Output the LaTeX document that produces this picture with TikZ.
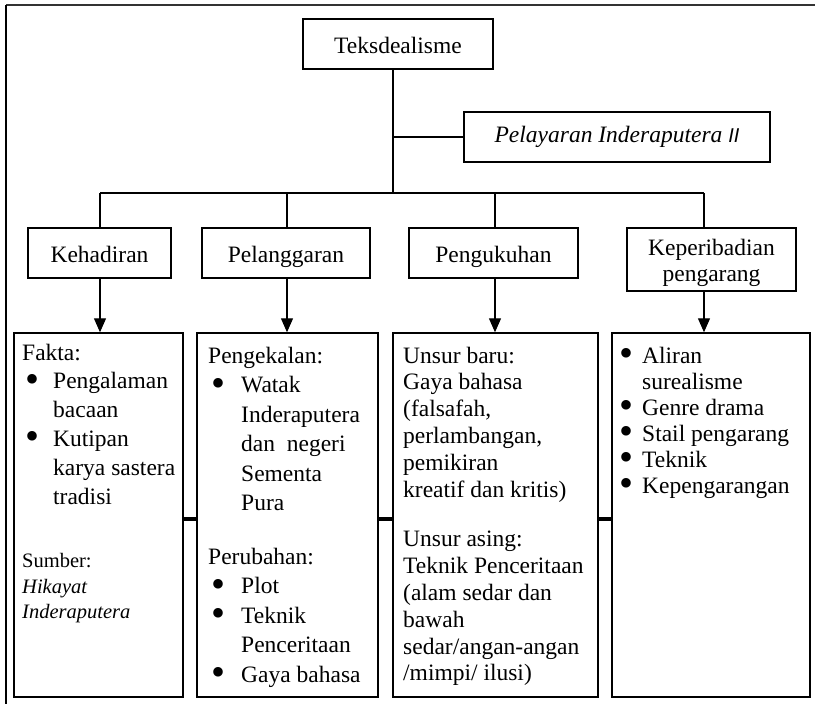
\documentclass[tikz,border=0pt]{standalone}
\usepackage{fontspec}
\usepackage{graphicx}
\setmainfont{Liberation Serif}
\newfontfamily\hurufsans{Liberation Sans}
\usetikzlibrary{arrows.meta}

\newcommand{\besar}{\fontsize{23.5}{28.8}\selectfont}
\newcommand{\sedang}{\fontsize{23.5}{26.8}\selectfont}
\newcommand{\kecil}{\fontsize{20.5}{25.5}\selectfont}
\newcommand{\titik}{\raisebox{-3.5pt}[0pt][0pt]{\scalebox{1.7}{\textbullet}}}
\newcommand{\butir}[2][31pt]{\par\hangindent=#1\hangafter=1\noindent\makebox[#1][l]{\hspace{3pt}\titik}{\let\\\newline #2}\par}

\tikzset{
    kotak/.style={draw, line width=1.4pt, inner sep=0pt, font=\besar, align=center},
    satu/.style={text height=18pt, text depth=0pt},
    isi/.style={draw, line width=1.4pt, inner sep=0pt},
    teks/.style={anchor=base west, inner sep=0pt},
    garis/.style={line width=1.2pt},
    panah/.style={line width=1.2pt, -{Triangle[length=14pt,width=12pt]}},
    sambung/.style={line width=3.5pt}
}

\begin{document}
\begin{tikzpicture}[x=1pt,y=-1pt]
    \useasboundingbox (0,0) rectangle (815,704);
    % bingkai
    \draw[line width=2pt, black!80] (815,5) -- (6,5);
    \draw[line width=2pt] (6,5) -- (6,704);

    \node[kotak, satu, minimum width=190pt, minimum height=50pt] (teks) at (398,44) {Teksdealisme};
    \node[kotak, minimum width=306pt, minimum height=50pt] (pel) at (617,137) {\textit{Pelayaran Inderaputera} {\hurufsans\itshape\fontsize{20}{24}\selectfont II}};

    \node[kotak, satu, minimum width=143pt, minimum height=50pt] (hadir) at (99.5,253) {Kehadiran};
    \node[kotak, satu, minimum width=168pt, minimum height=50pt] (langgar) at (286,253) {Pelanggaran};
    \node[kotak, satu, minimum width=169pt, minimum height=50pt] (kukuh) at (493.5,253) {Pengukuhan};
    \node[kotak, minimum width=169pt, minimum height=63pt, font=\fontsize{23.5}{26}\selectfont] (pribadi) at (711.5,259.5) {\rule{0pt}{24pt}Keperibadian\\pengarang};

    \node[isi, minimum width=169pt, minimum height=364pt] (fakta) at (98.5,515) {};
    \node[isi, minimum width=181pt, minimum height=364pt] (kekal) at (287.5,515) {};
    \node[isi, minimum width=205pt, minimum height=364pt] (unsur) at (495.5,515) {};
    \node[isi, minimum width=198pt, minimum height=364pt] (aliran) at (711,515) {};

    \node[teks] (tfakta) at (22,360) {\parbox[t]{158pt}{\besar\raggedright
        Fakta:\par
        \butir{Pengalaman\\bacaan}
        \butir{Kutipan\\karya sastera\\tradisi}
        \vspace{38pt}
        {\kecil Sumber:\\\textit{Hikayat}\\\textit{Inderaputera}\par}}};
    \node[teks] (tkekal) at (208,363) {\parbox[t]{165pt}{\fontsize{23.5}{29.5}\selectfont\raggedright
        Pengekalan:\par
        \butir[33pt]{Watak\\Inderaputera\\dan\ \ negeri\\Sementa\\Pura}
        \vspace{24pt}
        Perubahan:\par
        \butir[33pt]{Plot}
        \butir[33pt]{Teknik\\Penceritaan}
        \butir[33pt]{Gaya bahasa}}};
    \node[teks] (tunsur) at (403,363) {\parbox[t]{190pt}{\sedang\raggedright
        Unsur baru:\\Gaya bahasa\\(falsafah,\\perlambangan,\\pemikiran\\kreatif dan kritis)\par
        \vspace{23pt}
        Unsur asing:\\Teknik Penceritaan\\(alam sedar dan\\bawah\\sedar/angan-angan\\/mimpi/ ilusi)\par}};
    \node[teks] (taliran) at (616,363) {\parbox[t]{190pt}{\fontsize{23.5}{26}\selectfont\raggedright
        \butir[26pt]{Aliran\\surealisme}
        \butir[26pt]{Genre drama}
        \butir[26pt]{Stail pengarang}
        \butir[26pt]{Teknik}
        \butir[26pt]{Kepengarangan}}};

    % garis penghubung
    \coordinate (cm) at (393,193);
    \coordinate (c1) at (100,193);
    \coordinate (c2) at (287,193);
    \coordinate (c3) at (495,193);
    \coordinate (c4) at (704,193);
    \draw[garis] (teks.south -| cm) -- (cm);
    \draw[garis] (cm |- pel.west) -- (pel.west);
    \draw[garis] (c1) -- (c4);
    \foreach \c/\k/\b in {c1/hadir/fakta, c2/langgar/kekal, c3/kukuh/unsur, c4/pribadi/aliran} {
        \draw[garis] (\c) -- (\k.north -| \c);
        \draw[panah] (\k.south -| \c) -- (\b.north -| \c);
    }
    \draw[sambung] ([yshift=-4pt]fakta.east) -- ([yshift=-4pt]kekal.west);
    \draw[sambung] ([yshift=-4pt]kekal.east) -- ([yshift=-4pt]unsur.west);
    \draw[sambung] ([yshift=-4pt]unsur.east) -- ([yshift=-4pt]aliran.west);
\end{tikzpicture}
\end{document}
